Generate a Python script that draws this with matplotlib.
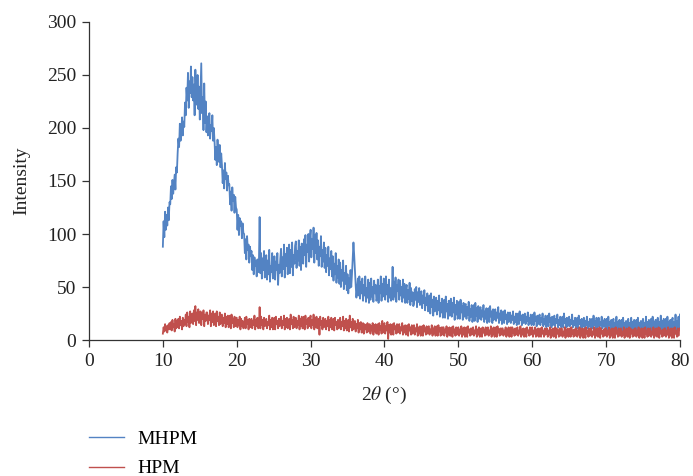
import numpy as np
import matplotlib
matplotlib.use('Agg')
import matplotlib.pyplot as plt

plt.rcParams['font.family'] = 'Liberation Serif'
plt.rcParams['mathtext.fontset'] = 'stix'

# 2-theta grid, 0.1 degree step from 10 to 80
two_theta = np.round(np.arange(10, 80.0001, 0.1), 1)

# one row per degree
mhpm = [
    88, 112, 97, 121, 104, 118, 108, 125, 113, 130,
    128, 145, 133, 151, 138, 147, 156, 142, 163, 158,
    176, 190, 182, 204, 188, 197, 210, 193, 206, 201,
    224, 212, 238, 226, 252, 219, 244, 233, 258, 229,
    248, 226, 241, 212, 255, 232, 222, 250, 218, 239,
    208, 236, 261, 214, 229, 198, 242, 205, 225, 196,
    211, 193, 206, 214, 190, 203, 197, 212, 188, 200,
    187, 170, 182, 165, 189, 174, 168, 184, 163, 176,
    165, 148, 160, 143, 167, 152, 158, 141, 155, 146,
    147, 128, 140, 122, 144, 131, 137, 120, 135, 125,
    123, 104, 118, 99, 115, 108, 112, 96, 110, 101,
    100, 82, 95, 76, 98, 85, 90, 73, 88, 79,
    84, 66, 80, 62, 78, 70, 74, 60, 76, 64,
    71, 116, 63, 82, 58, 77, 66, 84, 59, 73,
    80, 57, 75, 62, 85, 55, 70, 64, 82, 58,
    62, 79, 57, 74, 66, 82, 52, 71, 63, 77,
    86, 60, 78, 67, 90, 59, 81, 70, 87, 62,
    74, 90, 63, 85, 69, 92, 61, 80, 72, 89,
    93, 68, 84, 75, 94, 70, 88, 66, 91, 77,
    72, 95, 80, 99, 69, 90, 83, 100, 74, 96,
    104, 78, 95, 86, 106, 73, 99, 82, 101, 76,
    94, 70, 88, 79, 98, 69, 85, 74, 92, 68,
    87, 64, 80, 70, 88, 61, 77, 67, 84, 60,
    79, 56, 72, 62, 82, 54, 70, 59, 76, 53,
    73, 50, 66, 56, 75, 48, 63, 53, 70, 47,
    62, 44, 58, 49, 66, 50, 62, 76, 92, 80,
    65, 52, 40, 48, 58, 42, 60, 39, 55, 44,
    58, 37, 52, 42, 60, 36, 49, 40, 57, 35,
    54, 38, 58, 41, 50, 36, 56, 44, 52, 37,
    39, 57, 35, 51, 44, 60, 37, 53, 41, 58,
    55, 38, 60, 43, 52, 36, 57, 40, 49, 37,
    44, 69, 38, 55, 41, 59, 36, 52, 46, 57,
    38, 56, 42, 50, 36, 57, 40, 53, 35, 48,
    52, 35, 47, 39, 54, 33, 49, 37, 45, 32,
    34, 48, 38, 50, 31, 45, 36, 49, 33, 43,
    46, 30, 42, 35, 47, 28, 40, 33, 44, 27,
    29, 42, 25, 44, 31, 38, 23, 41, 27, 36,
    40, 24, 37, 28, 42, 22, 35, 26, 39, 21,
    25, 38, 21, 41, 27, 34, 20, 37, 23, 36,
    39, 22, 35, 26, 40, 19, 33, 24, 37, 20,
    24, 36, 20, 38, 26, 32, 19, 35, 22, 33,
    34, 20, 31, 24, 36, 18, 29, 22, 33, 17,
    21, 33, 18, 35, 23, 30, 17, 32, 20, 28,
    31, 19, 28, 22, 33, 17, 27, 20, 30, 16,
    20, 30, 17, 32, 22, 27, 16, 29, 19, 26,
    29, 18, 26, 21, 31, 16, 25, 19, 28, 15,
    19, 27, 16, 28, 20, 24, 15, 26, 17, 23,
    26, 16, 23, 19, 27, 15, 22, 17, 25, 14,
    17, 25, 15, 27, 19, 23, 14, 24, 16, 22,
    25, 15, 22, 18, 26, 14, 21, 16, 24, 14,
    16, 24, 14, 26, 18, 22, 13, 23, 15, 21,
    24, 14, 21, 17, 25, 13, 20, 15, 23, 12,
    15, 23, 13, 25, 17, 21, 12, 22, 14, 20,
    23, 13, 20, 16, 24, 12, 19, 14, 22, 12,
    14, 22, 12, 25, 16, 20, 12, 21, 13, 19,
    22, 13, 19, 15, 24, 12, 18, 14, 21, 11,
    13, 21, 11, 23, 15, 19, 11, 20, 12, 18,
    21, 12, 18, 14, 22, 11, 17, 13, 20, 11,
    13, 20, 11, 23, 14, 18, 10, 21, 12, 17,
    21, 12, 17, 14, 22, 11, 18, 13, 20, 10,
    12, 20, 10, 22, 14, 17, 10, 19, 11, 18,
    20, 11, 16, 13, 22, 9, 17, 12, 19, 10,
    11, 19, 9, 21, 13, 16, 9, 18, 10, 17,
    20, 10, 16, 12, 21, 9, 17, 11, 19, 9,
    11, 19, 9, 21, 13, 16, 9, 18, 10, 17,
    20, 10, 16, 12, 22, 9, 17, 11, 19, 9,
    11, 20, 9, 22, 13, 17, 9, 19, 10, 18,
    21, 10, 17, 12, 23, 9, 18, 11, 20, 9,
    11, 20, 9, 22, 13, 17, 10, 19, 10, 18,
    21, 10, 17, 12, 24, 9, 18, 11, 22, 10,
    24,
]

hpm = [
    6, 12, 8, 15, 9, 13, 7, 14, 10, 16,
    10, 17, 9, 19, 12, 15, 8, 20, 11, 18,
    12, 20, 11, 22, 14, 18, 10, 21, 13, 19,
    15, 24, 13, 26, 17, 22, 12, 27, 16, 23,
    25, 15, 28, 18, 32, 14, 26, 19, 29, 16,
    17, 27, 14, 25, 20, 28, 13, 24, 18, 26,
    26, 15, 23, 19, 28, 13, 25, 17, 27, 14,
    16, 25, 13, 27, 18, 22, 14, 26, 15, 23,
    24, 13, 21, 16, 25, 12, 22, 15, 23, 12,
    14, 23, 11, 24, 16, 20, 12, 22, 13, 21,
    21, 12, 19, 14, 22, 10, 20, 13, 18, 11,
    13, 21, 11, 22, 15, 19, 10, 20, 12, 18,
    20, 11, 18, 14, 23, 10, 19, 13, 21, 11,
    12, 31, 11, 22, 14, 19, 10, 21, 13, 18,
    20, 11, 17, 14, 23, 10, 19, 12, 21, 10,
    12, 21, 10, 22, 15, 18, 11, 20, 13, 19,
    22, 11, 18, 14, 23, 10, 20, 12, 21, 11,
    13, 20, 10, 24, 15, 19, 11, 22, 12, 18,
    21, 11, 18, 14, 23, 10, 20, 13, 22, 11,
    12, 22, 10, 23, 15, 19, 11, 21, 13, 20,
    23, 11, 19, 14, 24, 10, 21, 12, 22, 11,
    13, 20, 5, 22, 14, 18, 10, 21, 12, 19,
    20, 10, 18, 13, 22, 9, 19, 12, 21, 10,
    12, 20, 9, 21, 14, 17, 10, 19, 11, 18,
    21, 10, 17, 13, 22, 9, 18, 11, 20, 9,
    10, 19, 8, 23, 12, 17, 9, 20, 10, 16,
    18, 8, 15, 11, 19, 7, 16, 10, 17, 7,
    9, 16, 6, 15, 10, 14, 7, 16, 8, 13,
    15, 6, 13, 9, 16, 5, 14, 8, 15, 6,
    8, 15, 5, 16, 10, 13, 6, 18, 7, 14,
    16, 6, 13, 9, 17, 1, 14, 7, 15, 5,
    8, 15, 5, 16, 10, 13, 6, 15, 7, 14,
    15, 6, 12, 9, 16, 5, 13, 7, 14, 5,
    7, 14, 4, 15, 9, 12, 5, 14, 6, 13,
    14, 5, 11, 8, 15, 4, 12, 6, 13, 4,
    6, 13, 4, 14, 8, 11, 5, 13, 6, 12,
    13, 5, 10, 7, 14, 4, 11, 6, 13, 4,
    6, 13, 4, 14, 8, 11, 4, 12, 5, 12,
    12, 4, 10, 7, 13, 3, 11, 5, 12, 4,
    5, 12, 3, 13, 7, 10, 4, 12, 5, 11,
    12, 4, 10, 6, 13, 3, 11, 5, 12, 3,
    5, 12, 3, 13, 7, 10, 4, 11, 5, 11,
    12, 4, 9, 6, 13, 3, 10, 5, 12, 3,
    5, 11, 3, 12, 7, 10, 4, 12, 5, 10,
    12, 4, 9, 6, 13, 3, 11, 5, 12, 3,
    5, 12, 3, 13, 7, 10, 4, 11, 5, 11,
    11, 4, 9, 6, 12, 3, 10, 5, 12, 3,
    5, 12, 3, 12, 7, 10, 4, 11, 5, 10,
    12, 4, 9, 6, 13, 3, 10, 5, 11, 3,
    5, 11, 3, 12, 7, 9, 4, 12, 5, 10,
    12, 3, 9, 6, 12, 3, 10, 4, 11, 3,
    4, 11, 3, 12, 6, 9, 3, 11, 5, 10,
    11, 3, 9, 5, 12, 2, 10, 4, 11, 3,
    4, 12, 2, 11, 6, 9, 3, 11, 4, 10,
    11, 3, 8, 5, 12, 2, 10, 4, 11, 3,
    4, 11, 3, 12, 6, 9, 3, 10, 4, 11,
    11, 3, 9, 5, 12, 2, 10, 4, 11, 2,
    4, 11, 2, 12, 6, 9, 3, 11, 4, 10,
    11, 3, 8, 5, 12, 2, 10, 4, 11, 3,
    4, 12, 2, 11, 6, 9, 3, 10, 4, 11,
    11, 3, 9, 5, 12, 2, 10, 4, 11, 2,
    4, 11, 2, 12, 6, 9, 3, 11, 4, 10,
    11, 3, 8, 5, 12, 2, 10, 4, 11, 3,
    4, 12, 2, 11, 6, 9, 3, 10, 4, 11,
    11, 3, 9, 5, 12, 2, 10, 4, 11, 2,
    4, 11, 2, 12, 6, 9, 3, 11, 4, 10,
    11, 3, 8, 5, 12, 2, 10, 4, 11, 3,
    4, 12, 2, 11, 6, 9, 3, 10, 4, 11,
    11, 3, 9, 5, 12, 2, 10, 4, 11, 2,
    4, 11, 2, 12, 6, 9, 3, 11, 4, 10,
    11,
]

fig = plt.figure(figsize=(6.93, 4.76), dpi=100)
ax = fig.add_axes([0.1284, 0.2857, 0.8528, 0.6681])

ax.plot(two_theta, mhpm, color='#5383c3', lw=1.3, label='MHPM')
ax.plot(two_theta, hpm, color='#c0504d', lw=1.3, label='HPM')

ax.set_xlim(0, 80)
ax.set_ylim(0, 300)
ax.set_xticks(range(0, 81, 10))
ax.set_yticks(range(0, 301, 50))
ax.spines['top'].set_visible(False)
ax.spines['right'].set_visible(False)
for s in ('left', 'bottom'):
    ax.spines[s].set_color('#333333')
    ax.spines[s].set_linewidth(0.9)
ax.tick_params(direction='out', length=5, width=0.9, color='#333333',
               labelsize=14, labelcolor='#222222', pad=4)
ax.set_xlabel(r'2$\theta$ (°)', fontsize=14, color='#222222', labelpad=11)
ax.set_ylabel('Intensity', fontsize=14, color='#222222', labelpad=12)

leg = fig.legend(loc='upper left', bbox_to_anchor=(0.117, 0.112), frameon=False,
                 fontsize=14, handlelength=1.8, handletextpad=0.7,
                 labelspacing=0.6, borderaxespad=0)
for line in leg.get_lines():
    line.set_linewidth(1.0)

fig.savefig('out.png', dpi=100)
